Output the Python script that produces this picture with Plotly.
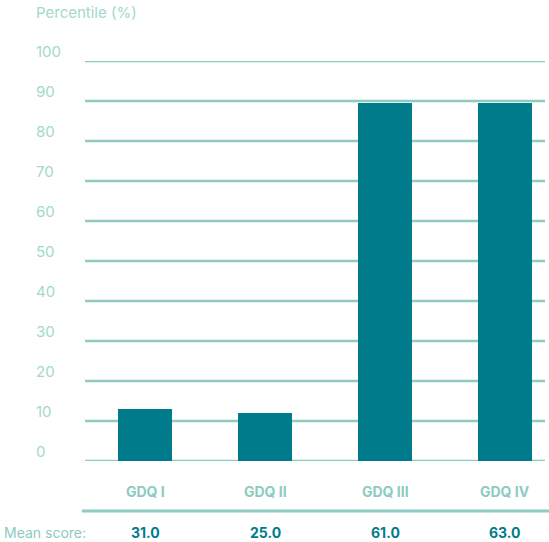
import plotly.graph_objects as go

# Data
categories = ["GDQ I", "GDQ II", "GDQ III", "GDQ IV"]
percentiles = [13, 12, 89.5, 89.5]
mean_scores = ["31.0", "25.0", "61.0", "63.0"]
y_ticks = [0, 10, 20, 30, 40, 50, 60, 70, 80, 90, 100]

BAR = "#007b8c"
GRID = "#8ecbc0"
LABEL = "#a3d8cd"
CAT = "#8ccbbf"
FONT = "Inter, Open Sans, sans-serif"

W, H = 549, 542
L, R, T, B = 85, 4, 61, 81
plot_h = H - T - B


def py(pixel_y):
    """Convert a pixel row to paper y."""
    return (H - B - pixel_y) / plot_h


xs = list(range(len(categories)))

fig = go.Figure()
fig.add_trace(go.Bar(
    x=xs, y=percentiles, width=0.45,
    marker=dict(color=BAR, line=dict(width=0)),
    hoverinfo="skip",
))

shapes = []
annotations = []

# Horizontal gridlines and their labels
for v in y_ticks:
    shapes.append(dict(
        type="line", xref="paper", yref="y", x0=0, x1=1, y0=v, y1=v,
        line=dict(color=GRID, width=2.5), layer="below",
    ))
    annotations.append(dict(
        text=str(v), xref="paper", yref="y", x=(34 - L) / (W - L - R), y=v,
        xanchor="left", yanchor="bottom", yshift=-2, showarrow=False,
        font=dict(family=FONT, size=15, color=LABEL),
    ))

# Axis title
annotations.append(dict(
    text="Percentile (%)", xref="paper", yref="paper",
    x=(34 - L) / (W - L - R), y=py(13), xanchor="left", yanchor="middle",
    showarrow=False, font=dict(family=FONT, size=15, color=LABEL),
))

# Category labels
for x, c in zip(xs, categories):
    annotations.append(dict(
        text=f"<b>{c}</b>", xref="x", yref="paper", x=x, y=py(492),
        xanchor="center", yanchor="middle", showarrow=False,
        font=dict(family=FONT, size=14, color=CAT),
    ))

# Separator line above mean scores
shapes.append(dict(
    type="line", xref="paper", yref="paper",
    x0=(82 - L) / (W - L - R), x1=(W + 2 - L) / (W - L - R),
    y0=py(511), y1=py(511),
    line=dict(color=GRID, width=3),
))

# Mean score row
annotations.append(dict(
    text="Mean score:", xref="paper", yref="paper",
    x=(2 - L) / (W - L - R), y=py(532), xanchor="left", yanchor="middle",
    showarrow=False, font=dict(family=FONT, size=14, color=CAT),
))
for x, s in zip(xs, mean_scores):
    annotations.append(dict(
        text=f"<b>{s}</b>", xref="x", yref="paper", x=x, y=py(532),
        xanchor="center", yanchor="middle", showarrow=False,
        font=dict(family=FONT, size=14, color=BAR),
    ))

fig.update_layout(
    width=W, height=H,
    margin=dict(l=L, r=R, t=T, b=B),
    paper_bgcolor="white", plot_bgcolor="white",
    showlegend=False,
    xaxis=dict(range=[-0.5, (W - L - R) / 120 - 0.5], visible=False,
               fixedrange=True),
    yaxis=dict(range=[0, 100], visible=False, fixedrange=True),
    shapes=shapes, annotations=annotations,
    bargap=0,
)

fig.write_html("out.html", config={"displayModeBar": False})
